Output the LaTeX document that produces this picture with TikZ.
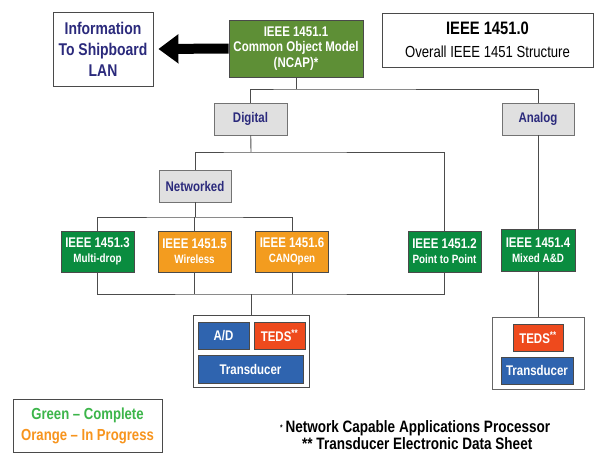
\documentclass[tikz,border=0pt]{standalone}
\usepackage{fontspec}
\setmainfont{Liberation Sans}
\newfontfamily\nar[FakeStretch=0.82]{Liberation Sans}
\usetikzlibrary{arrows.meta}
\definecolor{navy}{HTML}{2B2A7C}
\definecolor{olive}{HTML}{5E8F36}
\definecolor{dkgreen}{HTML}{0A8C3F}
\definecolor{orng}{HTML}{F39C1F}
\definecolor{grayfill}{HTML}{E0E0E0}
\definecolor{blu}{HTML}{2F64AF}
\definecolor{tedsred}{HTML}{EE4A1D}
\definecolor{lgreen}{HTML}{3CB54A}
\definecolor{lorange}{HTML}{F7941D}
\definecolor{edge}{HTML}{4A4A4A}
\begin{document}
\begin{tikzpicture}[x=1pt,y=-1pt,
  base/.style={draw=edge,line width=0.8pt,inner sep=0pt,align=center,font=\nar\bfseries},
  whitebox/.style={base,fill=white},
  graybox/.style={base,fill=grayfill,draw=gray!90!black,text=navy,font=\nar\bfseries\fontsize{14}{16}\selectfont,minimum height=32pt},
  stdbox/.style={base,text=white,minimum width=73pt,minimum height=41pt,font=\nar\bfseries\fontsize{14}{15}\selectfont},
  greenstd/.style={stdbox,fill=dkgreen},
  orangestd/.style={stdbox,fill=orng},
  blockbox/.style={base,text=white,font=\nar\bfseries\fontsize{14}{16}\selectfont,minimum height=27pt},
  link/.style={draw=gray!60!black,line width=0.9pt},
  bigarrow/.style={line width=10pt,-{Triangle[length=20pt,width=28pt]}},
  footnote/.style={inner sep=0pt,anchor=west,font=\nar\bfseries\fontsize{16.5}{18}\selectfont}
]
\useasboundingbox (0,0) rectangle (594,455);

% top row
\node[whitebox,text=navy,minimum width=100pt,minimum height=74pt,
  font=\nar\bfseries\fontsize{17}{21}\selectfont] (info) at (103,49)
  {Information\\To Shipboard\\LAN};
\node[base,fill=olive,text=white,minimum width=134pt,minimum height=57pt,
  font=\nar\bfseries\fontsize{14}{15.5}\selectfont] (ncap) at (296,48.5)
  {IEEE 1451.1\\Common Object Model\\(NCAP)*};
\node[whitebox,minimum width=211pt,minimum height=54pt,
  font=\nar\fontsize{16}{23}\selectfont] (title) at (487.5,40)
  {{\bfseries\fontsize{18}{23}\selectfont IEEE 1451.0}\\
   Overall IEEE 1451 Structure};
\draw[bigarrow] (ncap.west) -- ([xshift=5pt]info.east);

% second level
\node[graybox,minimum width=73pt] (digital) at (250.5,119) {Digital};
\node[graybox,minimum width=72pt] (analog) at (538,119) {Analog};
\node[graybox,minimum width=72pt] (networked) at (195,186) {Networked};

% standard boxes
\node[greenstd] (s3) at (97.5,251.5) {IEEE 1451.3\\{\fontsize{12}{13}\selectfont Multi-drop}};
\node[orangestd] (s5) at (194.5,251.5) {IEEE 1451.5\\{\fontsize{12}{13}\selectfont Wireless}};
\node[orangestd] (s6) at (292,251.5) {IEEE 1451.6\\{\fontsize{12}{13}\selectfont CANOpen}};
\node[greenstd] (s2) at (444.5,251.5) {IEEE 1451.2\\{\fontsize{12}{13}\selectfont Point to Point}};
\node[greenstd,minimum width=74pt,minimum height=42pt] (s4) at (538,250) {IEEE 1451.4\\{\fontsize{12}{13}\selectfont Mixed A\&D}};

% transducer groups
\node[whitebox,minimum width=116pt,minimum height=72pt] (midbox) at (251,351) {};
\node[blockbox,fill=blu,minimum width=51pt] (ad) at (223.5,335.5) {A/D};
\node[blockbox,fill=tedsred,minimum width=51pt] (teds1) at (279.5,335.5) {TEDS\textsuperscript{**}};
\node[blockbox,fill=blu,minimum width=105pt,minimum height=28pt] (trans1) at (250.5,369) {Transducer};

\node[whitebox,draw=gray!80!black,minimum width=92pt,minimum height=72pt] (rightbox) at (538,353) {};
\node[blockbox,fill=tedsred,minimum width=50pt] (teds2) at (538,337.5) {TEDS\textsuperscript{**}};
\node[blockbox,fill=blu,minimum width=72pt] (trans2) at (537,370.5) {Transducer};

% connectors
\coordinate (bus1) at (296,89);
\coordinate (bus2) at (251,152);
\coordinate (bus3) at (195,217);
\coordinate (bus4) at (251,294);
\draw[link] (ncap) -- (bus1);
\draw[link] (digital.north) |- (bus1) -| (analog.north);
\draw[link] (digital) -- (bus2);
\draw[link] (networked.north) |- (bus2) -| (s2.north);
\draw[link] (networked) -- (bus3);
\draw[link] (s3.north) |- (bus3) -| (s6.north);
\draw[link] (s5.north) -- (s5.north |- bus3);
\draw[link] (s3.south) |- (bus4) -| (s2.south);
\draw[link] (s5.south) -- (s5.south |- bus4);
\draw[link] (s6.south) -- (s6.south |- bus4);
\draw[link] (bus4) -- (midbox.north);
\draw[link] (analog) -- (s4);
\draw[link] (s4) -- (rightbox);

% legend and footnotes
\node[whitebox,minimum width=149pt,minimum height=53pt,
  font=\nar\bfseries\fontsize{16}{21}\selectfont] (legend) at (87.5,425.5)
  {\textcolor{lgreen}{Green \textendash\ Complete}\\\textcolor{lorange}{Orange \textendash\ In Progress}};
\node[footnote] (fn1) at (280,428)
  {\raisebox{0.25ex}{\fontsize{8}{8}\selectfont *}\,Network Capable Applications Processor};
\node[footnote] (fn2) at (302,444)
  {** Transducer Electronic Data Sheet};
\end{tikzpicture}
\end{document}
